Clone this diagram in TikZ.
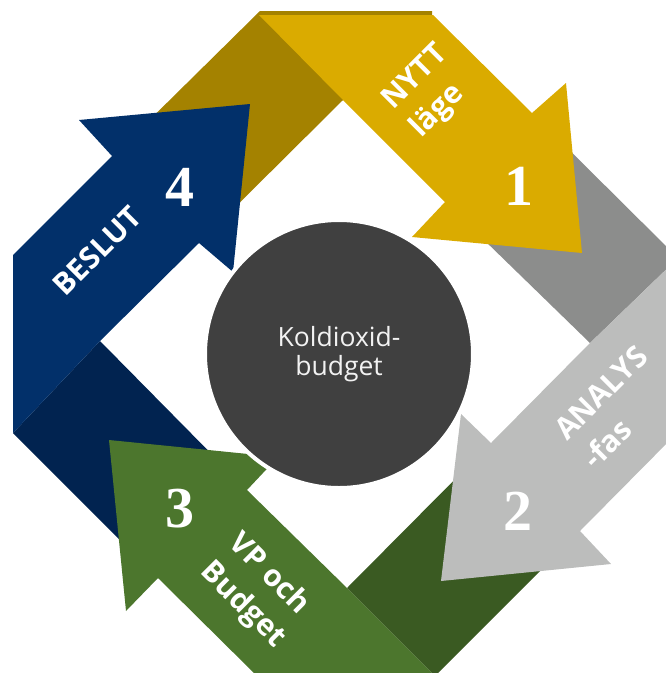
\documentclass[tikz,border=0pt]{standalone}
\usepackage{fontspec}
\newfontfamily\labelfont{Open Sans}
\newfontfamily\numfont{Liberation Serif}
\definecolor{goldlight}{HTML}{DAAB00}
\definecolor{golddark}{HTML}{A48200}
\definecolor{greylight}{HTML}{BCBDBC}
\definecolor{greydark}{HTML}{8C8D8C}
\definecolor{greenlight}{HTML}{4C762D}
\definecolor{greendark}{HTML}{3A5A22}
\definecolor{bluelight}{HTML}{02306A}
\definecolor{bluedark}{HTML}{012350}
\definecolor{core}{HTML}{404040}
\begin{document}
\begin{tikzpicture}[x=1pt, y=-1pt,
    phase/.style={text=white, font=\labelfont\bfseries\fontsize{30}{40}\selectfont, align=left, inner sep=0pt},
    num/.style={text=white, font=\numfont\bfseries\fontsize{58}{58}\selectfont, inner sep=0pt}]
  \clip (0,0) rectangle (666,673);

  % draw the folded back halves first
  \fill[golddark] (432,11) -- (260,11) -- (112,157) -- (199,243) -- (343,100) -- (432,15) -- cycle;
  \fill[greydark] (532,113) -- (678,258) -- (590,343) -- (445,202) -- cycle;
  \fill[greendark] (580,531) -- (435,676) -- (347,588) -- (491,443) -- cycle;
  \fill[bluedark] (13,433) -- (100,341) -- (247,490) -- (158,578) -- cycle;

  % draw the four arrows on top
  \fill[goldlight] (259,15) -- (433,15) -- (532,113) -- (566,83) -- (582,253)
    -- (412,237) -- (445,202) -- (343,100) -- cycle;
  \fill[greylight] (678,258) -- (678,432) -- (580,531) -- (611,564) -- (441,581)
    -- (461,414) -- (491,443) -- (590,343) -- cycle;
  \fill[greenlight] (435,676) -- (257,676) -- (158,578) -- (126,611) -- (109,440)
    -- (278,457) -- (247,490) -- (347,588) -- cycle;
  \fill[bluelight] (13,433) -- (13,255) -- (112,156) -- (79,120) -- (250,104)
    -- (233,272) -- (199,243) -- (100,341) -- cycle;

  % the centre disc with a white rim
  \node[circle, fill=core, draw=white, line width=4pt, minimum size=268pt, inner sep=0pt,
    text=white!95!black, align=center, font=\labelfont\fontsize{26.5}{29}\selectfont]
    (budget) at (339,354) {Koldioxid-\\budget};

  % phase labels
  \node[phase, rotate=45] (nytt) at (430,92) {NYTT\\läge};
  \node[phase, rotate=45] (analys) at (615,407) {ANALYS\\-fas};
  \node[phase, rotate=-45] (vp) at (257,591) {VP och\\Budget};
  \node[phase, rotate=45] (beslut) at (97,251) {BESLUT};

  % step numbers
  \node[num] (one) at (519,186) {1};
  \node[num] (two) at (518,511) {2};
  \node[num] (three) at (180,509) {3};
  \node[num] (four) at (180,187) {4};
\end{tikzpicture}
\end{document}
